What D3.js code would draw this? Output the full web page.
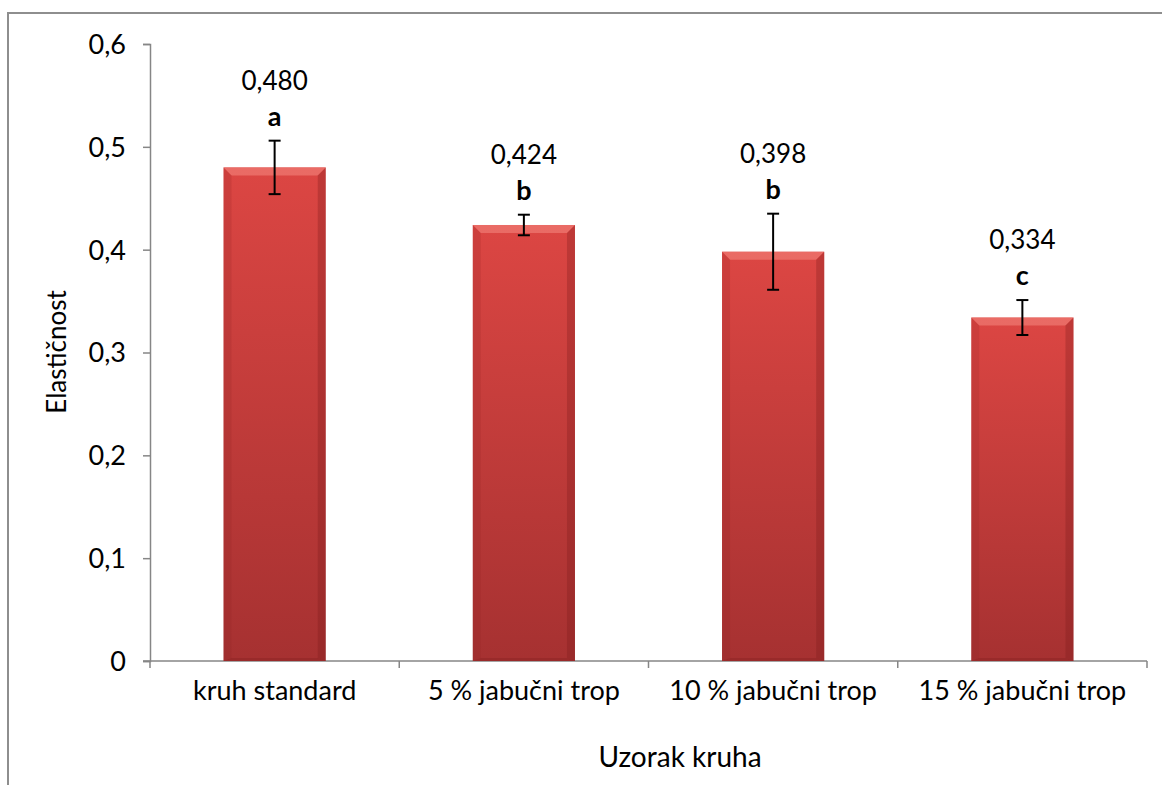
<!DOCTYPE html>
<html>
<head>
<meta charset="utf-8">
<script src="https://cdn.jsdelivr.net/npm/d3@7"></script>
<style>
  body { margin: 0; background: #fff; }
  svg text { font-family: Lato, "Open Sans", sans-serif; fill: #000; }
</style>
</head>
<body>
<svg id="chart" width="1162" height="785"></svg>
<script>
// data
var categories = ["kruh standard", "5 % jabučni trop", "10 % jabučni trop", "15 % jabučni trop"];
var values = [0.480, 0.424, 0.398, 0.334];
var errors = [0.026, 0.010, 0.037, 0.017];
var letters = ["a", "b", "b", "c"];
var yTicks = [0, 0.1, 0.2, 0.3, 0.4, 0.5, 0.6];

var svg = d3.select("#chart"),
    margin = {top: 44, left: 150};

var fmt = function(v, d) { return v.toFixed(d).replace(".", ","); };

// outer frame (runs off the right and bottom edge like the original)
svg.append("rect")
    .attr("x", 8).attr("y", 13)
    .attr("width", 1170).attr("height", 800)
    .attr("fill", "none").attr("stroke", "#8e8e8e").attr("stroke-width", 2);

var x = d3.scaleBand()
    .domain(categories)
    .range([margin.left, 1147])
    .padding(0);

var y = d3.scaleLinear()
    .domain([0, 0.6])
    .range([661, margin.top]);

var barW = x.bandwidth() * 0.41;

var defs = svg.append("defs");
var grad = defs.append("linearGradient").attr("id", "barGrad")
    .attr("x1", 0).attr("y1", 0).attr("x2", 0).attr("y2", 1);
grad.append("stop").attr("offset", "0%").attr("stop-color", "#dc4643");
grad.append("stop").attr("offset", "100%").attr("stop-color", "#a63131");

var g = svg.append("g");

// axes
var yAxis = g.append("g")
    .attr("transform", "translate(" + margin.left + ",0)")
    .call(d3.axisLeft(y).tickValues(yTicks).tickSize(7).tickPadding(17)
        .tickFormat(function(d) { return d === 0 ? "0" : fmt(d, 1); }));
yAxis.selectAll("text").style("font-size", "27px").attr("dy", "0.35em");

var xAxis = g.append("g")
    .attr("transform", "translate(0,661)")
    .call(d3.axisBottom(x).tickSize(0).tickPadding(27));
xAxis.selectAll("text").style("font-size", "27px").attr("dy", "0.45em");

// category boundary ticks
var bounds = categories.map(function(c) { return x(c); }).concat([x(categories[3]) + x.bandwidth()]);
xAxis.selectAll(".bound")
    .data(bounds)
    .enter().append("line")
    .attr("class", "bound")
    .attr("x1", function(d) { return d; }).attr("x2", function(d) { return d; })
    .attr("y1", 0).attr("y2", 7);

svg.selectAll(".domain, .tick line, .bound")
    .attr("stroke", "#868686").attr("stroke-width", 1.5);
xAxis.select(".domain").attr("d", "M" + (margin.left - 7) + ",0H" + bounds[4]);

// bars
var bars = g.selectAll(".bar")
    .data(values)
    .enter().append("g")
    .attr("class", "bar");

bars.append("rect")
    .attr("x", function(d, i) { return x(categories[i]) + (x.bandwidth() - barW) / 2; })
    .attr("y", function(d) { return y(d); })
    .attr("width", barW)
    .attr("height", function(d) { return y(0) - y(d); })
    .attr("fill", "url(#barGrad)");

// bevel edges
var bev = 8;
function bevel(i, side) {
  var x0 = x(categories[i]) + (x.bandwidth() - barW) / 2, x1 = x0 + barW,
      y0 = y(values[i]), y1 = y(0);
  if (side === "top") return [[x0, y0], [x1, y0], [x1 - bev, y0 + bev], [x0 + bev, y0 + bev]];
  if (side === "left") return [[x0, y0], [x0 + bev, y0 + bev], [x0 + bev, y1 - 3], [x0, y1]];
  if (side === "right") return [[x1, y0], [x1 - bev, y0 + bev], [x1 - bev, y1 - 3], [x1, y1]];
  return [[x0, y1], [x0 + bev, y1 - 3], [x1 - bev, y1 - 3], [x1, y1]];
}
var line = d3.line();
bars.append("path").attr("d", function(d, i) { return line(bevel(i, "top")) + "Z"; })
    .attr("fill", "#f07a74").attr("opacity", 0.7);
bars.append("path").attr("d", function(d, i) { return line(bevel(i, "left")) + "Z"; })
    .attr("fill", "#8c2323").attr("opacity", 0.18);
bars.append("path").attr("d", function(d, i) { return line(bevel(i, "right")) + "Z"; })
    .attr("fill", "#7a1c1c").attr("opacity", 0.3);
bars.append("path").attr("d", function(d, i) { return line(bevel(i, "bottom")) + "Z"; })
    .attr("fill", "#7a1c1c").attr("opacity", 0.3);

// error bars
var cap = 6;
bars.each(function(d, i) {
  var cx = x(categories[i]) + x.bandwidth() / 2,
      hi = y(d + errors[i]), lo = y(d - errors[i]);
  var e = d3.select(this).append("g").attr("stroke", "#000").attr("stroke-width", 2);
  e.append("line").attr("x1", cx).attr("x2", cx).attr("y1", hi).attr("y2", lo);
  e.append("line").attr("x1", cx - cap).attr("x2", cx + cap).attr("y1", hi).attr("y2", hi);
  e.append("line").attr("x1", cx - cap).attr("x2", cx + cap).attr("y1", lo).attr("y2", lo);
});

// value labels and letters
bars.append("text")
    .attr("x", function(d, i) { return x(categories[i]) + x.bandwidth() / 2; })
    .attr("y", function(d, i) { return y(d + errors[i]) - 51; })
    .attr("text-anchor", "middle")
    .style("font-size", "26px")
    .text(function(d) { return fmt(d, 3); });

bars.append("text")
    .attr("x", function(d, i) { return x(categories[i]) + x.bandwidth() / 2; })
    .attr("y", function(d, i) { return y(d + errors[i]) - 15; })
    .attr("text-anchor", "middle")
    .style("font-size", "27px")
    .style("font-weight", "bold")
    .text(function(d, i) { return letters[i]; });

// axis titles
svg.append("text")
    .attr("transform", "translate(57,352) rotate(-90)")
    .attr("text-anchor", "middle")
    .attr("dy", "0.35em")
    .style("font-size", "26px")
    .text("Elastičnost");

svg.append("text")
    .attr("x", 680).attr("y", 767)
    .attr("text-anchor", "middle")
    .style("font-size", "28px")
    .text("Uzorak kruha");
</script>
</body>
</html>
